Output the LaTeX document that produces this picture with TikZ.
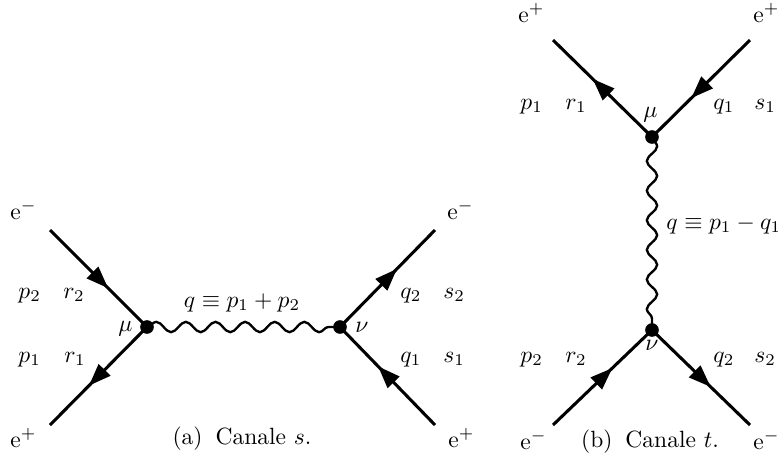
\documentclass[tikz,border=0pt]{standalone}
\usetikzlibrary{arrows.meta,decorations.markings,decorations.pathmorphing}
\begin{document}
\begin{tikzpicture}[x=0.4255pt,y=-0.4255pt,
  fermion/.style={line width=1.3pt,postaction={decorate},
    decoration={markings,mark=at position 0.6 with {\arrow{Triangle[length=9.5pt,width=6.8pt]}}}},
  photon/.style={line width=1pt,decorate,decoration={snake,segment length=12.6pt,amplitude=2.2pt}},
  vtx/.style={circle,fill=black,inner sep=0pt,minimum size=5.8pt},
  lbl/.style={anchor=base west,inner sep=0pt},
  lblc/.style={anchor=base,inner sep=0pt}]
\useasboundingbox (0,0) rectangle (778,461);
% ---------- (a) canale s ----------
\coordinate (a1) at (50,230);
\coordinate (a2) at (50,425);
\coordinate (a3) at (435,230);
\coordinate (a4) at (435,425);
\node[vtx] (mu1) at (147,327) {};
\node[vtx] (nu1) at (340,327) {};
\draw[fermion] (a1) -- (mu1.center);
\draw[fermion] (mu1.center) -- (a2);
\draw[fermion] (nu1.center) -- (a3);
\draw[fermion] (a4) -- (nu1.center);
\draw[photon] (mu1.center) -- (nu1.center);
\node[lbl] (la1) at (10,219) {$\mathrm{e}^-$};
\node[lbl] (la2) at (10,447) {$\mathrm{e}^+$};
\node[lbl] (la3) at (447,219) {$\mathrm{e}^-$};
\node[lbl] (la4) at (448,447) {$\mathrm{e}^+$};
\node[lbl] (lp2a) at (18,298) {$p_2$};
\node[lbl] (lr2a) at (63,298) {$r_2$};
\node[lbl] (lp1a) at (18,362) {$p_1$};
\node[lbl] (lr1a) at (64,362) {$r_1$};
\node[lbl] (lq2a) at (400,298) {$q_2$};
\node[lbl] (ls2a) at (443,298) {$s_2$};
\node[lbl] (lq1a) at (400,362) {$q_1$};
\node[lbl] (ls1a) at (443,362) {$s_1$};
\node[lbl] (lmu1) at (118,331) {$\mu$};
\node[lbl] (lnu1) at (355,332) {$\nu$};
\node[lblc] (lqa) at (242,307) {$q\equiv p_1+p_2$};
\node[lblc] (capa) at (242,444) {(a)\hspace{5.5pt}Canale $s$.};
% ---------- (b) canale t ----------
\coordinate (b1) at (553,40);
\coordinate (b2) at (750,40);
\coordinate (b3) at (553,425);
\coordinate (b4) at (750,425);
\node[vtx] (mu2) at (652,137) {};
\node[vtx] (nu2) at (652,330) {};
\draw[fermion] (mu2.center) -- (b1);
\draw[fermion] (b2) -- (mu2.center);
\draw[fermion] (b3) -- (nu2.center);
\draw[fermion] (nu2.center) -- (b4);
\draw[photon] (mu2.center) -- (nu2.center);
\node[lbl] (lb1) at (518,22) {$\mathrm{e}^+$};
\node[lbl] (lb2) at (753,22) {$\mathrm{e}^+$};
\node[lbl] (lb3) at (520,449) {$\mathrm{e}^-$};
\node[lbl] (lb4) at (753,449) {$\mathrm{e}^-$};
\node[lbl] (lp1b) at (520,109) {$p_1$};
\node[lbl] (lr1b) at (565,109) {$r_1$};
\node[lbl] (lq1b) at (713,109) {$q_1$};
\node[lbl] (ls1b) at (754,109) {$s_1$};
\node[lbl] (lp2b) at (520,362) {$p_2$};
\node[lbl] (lr2b) at (565,362) {$r_2$};
\node[lbl] (lq2b) at (713,362) {$q_2$};
\node[lbl] (ls2b) at (754,362) {$s_2$};
\node[lbl] (lmu2) at (643,117) {$\mu$};
\node[lblc] (lnu2) at (652,350) {$\nu$};
\node[lbl] (lqb) at (666,229) {$q\equiv p_1-q_1$};
\node[lblc] (capb) at (650,447) {(b)\hspace{5.5pt}Canale $t$.};
\end{tikzpicture}
\end{document}
